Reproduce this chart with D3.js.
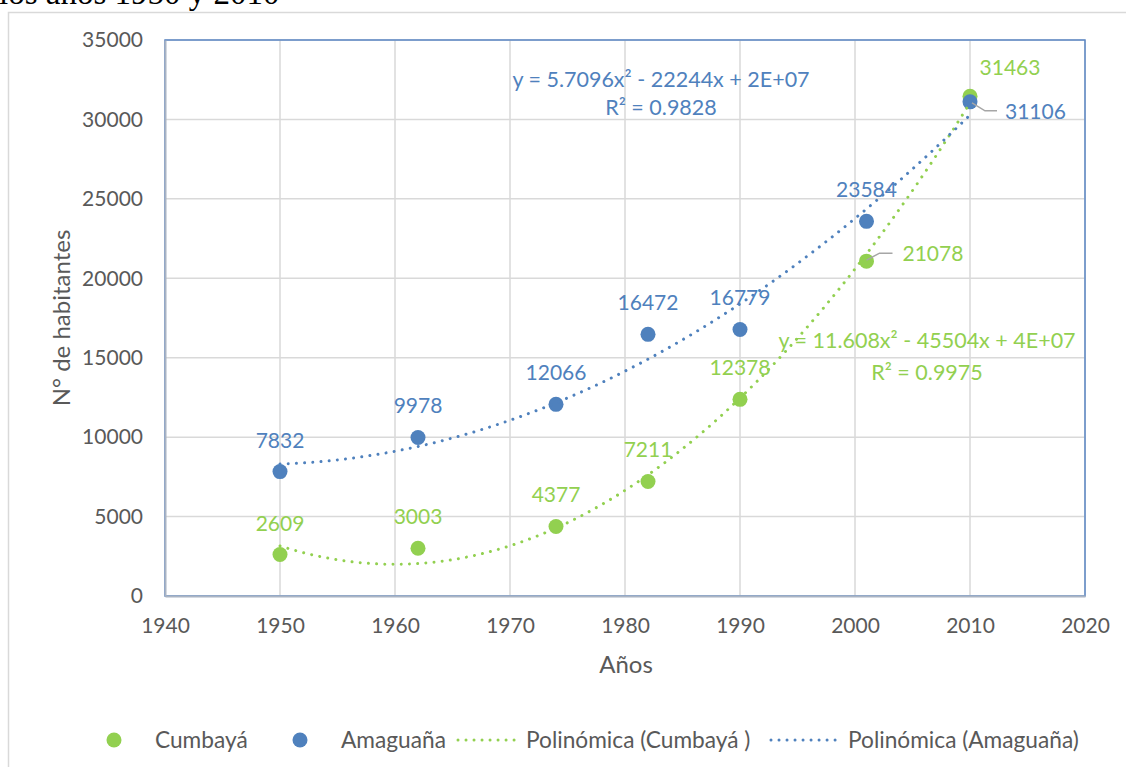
<!DOCTYPE html>
<html>
<head>
<meta charset="utf-8">
<script src="https://cdn.jsdelivr.net/npm/d3@7"></script>
<style>
  html, body { margin: 0; padding: 0; background: #fff; }
  svg { display: block; }
  text { font-family: Lato, "Open Sans", sans-serif; }
</style>
</head>
<body>
<svg width="1126" height="767"></svg>
<script>
// 데이터
const years = [1950, 1962, 1974, 1982, 1990, 2001, 2010];
const cumbaya = [2609, 3003, 4377, 7211, 12378, 21078, 31463];
const amaguana = [7832, 9978, 12066, 16472, 16779, 23584, 31106];
const xTicks = [1940, 1950, 1960, 1970, 1980, 1990, 2000, 2010, 2020];
const yTicks = [0, 5000, 10000, 15000, 20000, 25000, 30000, 35000];
const seriesNames = ["Cumbayá", "Amaguaña"];
const trendNames = ["Polinómica (Cumbayá )", "Polinómica (Amaguaña)"];
const eqCumbaya = ["y = 11.608x² - 45504x + 4E+07", "R² = 0.9975"];
const eqAmaguana = ["y = 5.7096x² - 22244x + 2E+07", "R² = 0.9828"];

const GREEN = "#92d050", BLUE = "#4f81bd", GRID = "#d9d9d9", TXT = "#595959";

const svg = d3.select("svg");

// 바깥 차트 테두리 + 잘린 제목
svg.append("path")
  .attr("d", "M8.5,767 V12.5 H1126")
  .attr("fill", "none").attr("stroke", GRID).attr("stroke-width", 1.5);
svg.append("text")
  .attr("x", -1).attr("y", 4)
  .style("font-family", "'Liberation Serif', 'DejaVu Serif', serif")
  .style("font-size", "33px").attr("fill", "#000")
  .text("los años 1950 y 2010");

// 플롯 영역
const L = 165, R = 1085, T = 40, B = 596;
const x = d3.scaleLinear().domain([1940, 2020]).range([L, R]);
const y = d3.scaleLinear().domain([0, 35000]).range([B, T]);

const g = svg.append("g");

// 그리드
g.selectAll(".vg").data(xTicks).enter().append("line")
  .attr("x1", d => x(d)).attr("x2", d => x(d)).attr("y1", T).attr("y2", B)
  .attr("stroke", GRID).attr("stroke-width", 1.5);
g.selectAll(".hg").data(yTicks).enter().append("line")
  .attr("x1", L).attr("x2", R).attr("y1", d => y(d)).attr("y2", d => y(d))
  .attr("stroke", GRID).attr("stroke-width", 1.5);

// 테두리 (위/오른쪽 파랑, 축은 회색)
g.append("rect").attr("x", L).attr("y", T).attr("width", R - L).attr("height", B - T)
  .attr("fill", "none").attr("stroke", "#5b87c5").attr("stroke-width", 1.5);

// 축
const xAxis = d3.axisBottom(x).tickValues(xTicks).tickFormat(d3.format("d")).tickSize(0).tickPadding(22);
const yAxis = d3.axisLeft(y).tickValues(yTicks).tickFormat(d3.format("d")).tickSize(0).tickPadding(22);
const gx = g.append("g").attr("transform", `translate(0,${B})`).call(xAxis);
const gy = g.append("g").attr("transform", `translate(${L},0)`).call(yAxis);
[gx, gy].forEach(a => {
  a.select(".domain").attr("stroke", "#aab4c3").attr("stroke-width", 2);
  a.selectAll("text").style("font-size", "21px").attr("fill", TXT).style("font-family", "Lato, sans-serif");
});
gx.selectAll("text").attr("dy", "0.71em");

// 축 제목
svg.append("text")
  .attr("transform", `translate(70,318) rotate(-90)`)
  .attr("text-anchor", "middle")
  .style("font-size", "24px").attr("fill", TXT)
  .text("N° de habitantes");
svg.append("text")
  .attr("x", 626).attr("y", 673)
  .attr("text-anchor", "middle")
  .style("font-size", "24px").attr("fill", TXT)
  .text("Años");

// 2차 다항 회귀 (최소제곱)
function quadFit(xs, ys) {
  const m = d3.mean(xs);
  const u = xs.map(v => v - m);
  const s = k => d3.sum(u, v => Math.pow(v, k));
  const t = k => d3.sum(u, (v, i) => Math.pow(v, k) * ys[i]);
  const A = [[xs.length, s(1), s(2)], [s(1), s(2), s(3)], [s(2), s(3), s(4)]];
  const b = [t(0), t(1), t(2)];
  // 가우스 소거
  for (let i = 0; i < 3; i++) {
    for (let j = i + 1; j < 3; j++) {
      const f = A[j][i] / A[i][i];
      for (let k = i; k < 3; k++) A[j][k] -= f * A[i][k];
      b[j] -= f * b[i];
    }
  }
  const c = [0, 0, 0];
  for (let i = 2; i >= 0; i--) {
    let sum = b[i];
    for (let k = i + 1; k < 3; k++) sum -= A[i][k] * c[k];
    c[i] = sum / A[i][i];
  }
  return xv => { const d = xv - m; return c[0] + c[1] * d + c[2] * d * d; };
}

const line = d3.line().x(d => x(d[0])).y(d => y(d[1])).curve(d3.curveLinear);
const trendX = d3.range(1950, 2010.01, 0.5);

function drawTrend(vals, color) {
  const f = quadFit(years, vals);
  g.append("path")
    .datum(trendX.map(v => [v, f(v)]))
    .attr("d", line)
    .attr("fill", "none").attr("stroke", color)
    .attr("stroke-width", 3).attr("stroke-linecap", "round")
    .attr("stroke-dasharray", "0.01 8.2");
}

// 점 + 라벨
function drawSeries(vals, color) {
  g.selectAll(null).data(vals).enter().append("circle")
    .attr("cx", (d, i) => x(years[i])).attr("cy", d => y(d))
    .attr("r", 7.5).attr("fill", color);
}

// 라벨 위치 보정 (기본: 점 위 중앙)
const labelAdj = {
  cumbaya: { 5: { dx: 36, dy: 0, anchor: "start", leader: [[0, -1], [13, -8], [26, -8]] },
             6: { dx: 40, dy: -21, anchor: "middle" } },
  amaguana: { 6: { dx: 35, dy: 17, anchor: "start", leader: [[2, 1], [15, 9], [27, 9]] } }
};

function drawLabels(vals, color, adj) {
  vals.forEach((v, i) => {
    const px = x(years[i]), py = y(v);
    const a = adj[i] || { dx: 0, dy: -24, anchor: "middle" };
    if (a.leader) {
      g.append("path")
        .attr("d", d3.line()(a.leader.map(p => [px + p[0], py + p[1]])))
        .attr("fill", "none").attr("stroke", "#a6a6a6").attr("stroke-width", 1.5);
    }
    g.append("text")
      .attr("x", px + a.dx).attr("y", py + a.dy)
      .attr("text-anchor", a.anchor)
      .style("font-size", "21px").attr("fill", color)
      .text(v);
  });
}

drawSeries(cumbaya, GREEN);
drawSeries(amaguana, BLUE);
drawTrend(cumbaya, GREEN);
drawTrend(amaguana, BLUE);
drawLabels(cumbaya, GREEN, labelAdj.cumbaya);
drawLabels(amaguana, BLUE, labelAdj.amaguana);

// 회귀식 라벨
function eqLabel(lines, cx, ys, color) {
  lines.forEach((t, i) => {
    g.append("text").attr("x", cx).attr("y", ys[i])
      .attr("text-anchor", "middle")
      .style("font-size", "21.5px").attr("fill", color).text(t);
  });
}
eqLabel(eqAmaguana, 661, [87, 115], BLUE);
eqLabel(eqCumbaya, 927, [348, 380], GREEN);

// 범례
const lg = svg.append("g").attr("transform", "translate(0,740)");
const legendItems = [
  { type: "dot", color: GREEN, name: seriesNames[0], sx: 114, tx: 155 },
  { type: "dot", color: BLUE, name: seriesNames[1], sx: 300, tx: 341 },
  { type: "line", color: GREEN, name: trendNames[0], sx: 458, ex: 522, tx: 526 },
  { type: "line", color: BLUE, name: trendNames[1], sx: 771, ex: 840, tx: 848 }
];
legendItems.forEach(it => {
  if (it.type === "dot") {
    lg.append("circle").attr("cx", it.sx).attr("cy", 0).attr("r", 7.5).attr("fill", it.color);
  } else {
    lg.append("line").attr("x1", it.sx).attr("x2", it.ex).attr("y1", 0).attr("y2", 0)
      .attr("stroke", it.color).attr("stroke-width", 3).attr("stroke-linecap", "round")
      .attr("stroke-dasharray", "0.01 8");
  }
  lg.append("text").attr("x", it.tx).attr("y", 8)
    .style("font-size", "22.7px").attr("fill", TXT).text(it.name);
});
</script>
</body>
</html>
